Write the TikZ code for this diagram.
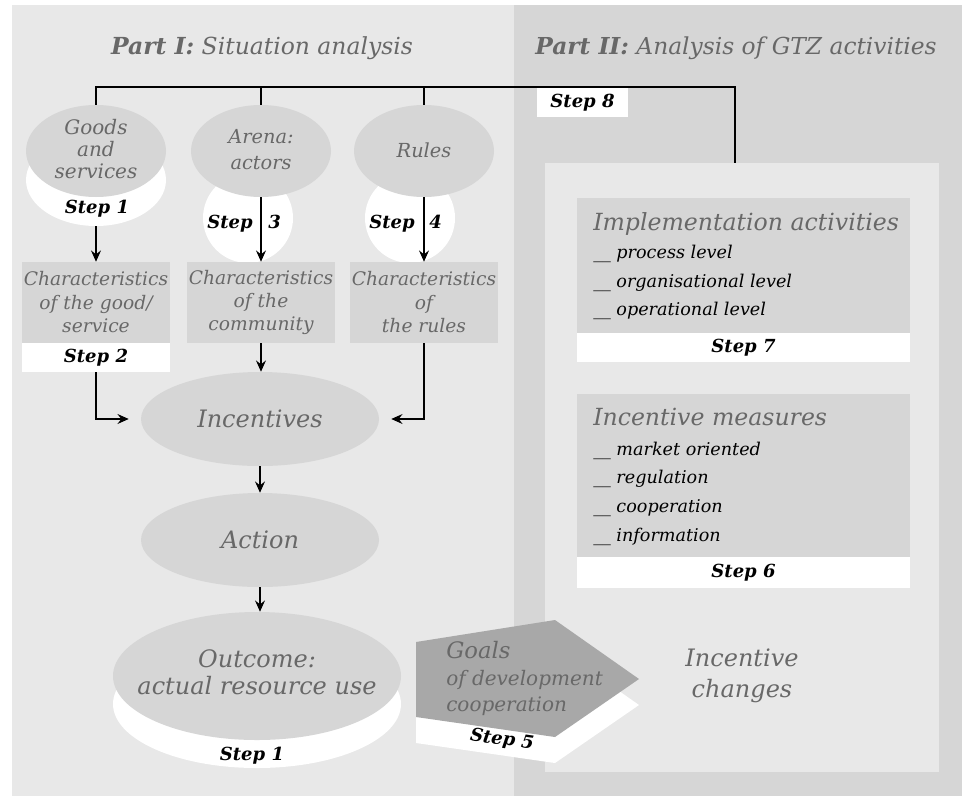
\documentclass[tikz,border=0pt]{standalone}
\usepackage{fontspec}
\setmainfont{DejaVu Serif}
\usetikzlibrary{shapes.geometric,arrows.meta}
\definecolor{panelA}{HTML}{E8E8E8}
\definecolor{panelB}{HTML}{D6D6D6}
\definecolor{blob}{HTML}{D6D6D6}
\definecolor{ink}{HTML}{686868}
\definecolor{goalfill}{HTML}{A8A8A8}
\newcommand\fsz[2]{\fontsize{#1}{#2}\selectfont}
\tikzset{
  blobell/.style={ellipse, fill=blob, inner sep=0pt},
  blobtxt/.style={align=center, text=ink, inner sep=0pt},
  shadowell/.style={ellipse, fill=white, inner sep=0pt},
  smallell/.style={minimum width=105pt, minimum height=69pt},
  bigell/.style={minimum width=178.5pt, minimum height=70.5pt},
  steplbl/.style={font=\fsz{13.5pt}{16pt}\bfseries\itshape, text=black, inner sep=0pt},
  greybox/.style={rectangle, fill=panelB, inner sep=0pt, align=center, text=ink},
  whitebox/.style={rectangle, fill=white, inner sep=0pt},
  charbox/.style={greybox, minimum width=111pt, minimum height=60.75pt,
    font=\fsz{14pt}{17.6pt}\itshape},
  stepbox/.style={whitebox, steplbl, minimum width=111pt, minimum height=21.75pt},
  widebox/.style={greybox, minimum width=249.75pt},
  widestep/.style={whitebox, steplbl, minimum width=249.75pt},
  titletxt/.style={font=\fsz{17.7pt}{20pt}\itshape, text=ink, inner sep=0pt, anchor=base west},
  itemtxt/.style={font=\fsz{13.2pt}{15pt}\itshape, text=black, inner sep=0pt, anchor=base west},
  arr/.style={-{Stealth[length=8.5pt,width=7.5pt,inset=3pt]}, line width=0.9pt},
  link/.style={line width=0.9pt}
}
\begin{document}
\begin{tikzpicture}[x=0.75pt,y=-0.75pt]
\useasboundingbox (0,0) rectangle (962,796);
% panels
\fill[white] (0,0) rectangle (962,796);
\fill[panelA] (12,5) rectangle (514,796);
\fill[panelB] (514,5) rectangle (962,796);
\fill[panelA] (545,163) rectangle (939,772);

% headings
\node[anchor=base, text=ink, font=\fsz{17.6pt}{20pt}, inner sep=0pt] (part1) at (262,54)
  {\textbf{\textit{Part I:}} \textit{Situation analysis}};
\node[anchor=base, text=ink, font=\fsz{17.5pt}{20pt}, inner sep=0pt] (part2) at (736,54)
  {\textbf{\textit{Part II:}} \textit{Analysis of GTZ activities}};

% step 8 tag
\node[whitebox, steplbl, minimum width=68.25pt, minimum height=21.75pt] (step8) at (582.5,102.5) {Step 8};

% top row: goods, arena, rules
\node[shadowell, smallell] (goodsSh) at (96,180) {};
\node[circle, fill=white, inner sep=0pt, minimum size=67.5pt] (s3c) at (248,218) {};
\node[circle, fill=white, inner sep=0pt, minimum size=67.5pt] (s4c) at (410,218) {};
\node[blobell, smallell] (goods) at (96,151) {};
\node[blobtxt, font=\fsz{15pt}{16.5pt}\itshape] (goodsT) at (96,149) {Goods\\and\\services};
\node[blobell, smallell] (arena) at (261,151) {};
\node[blobtxt, font=\fsz{14.5pt}{19.5pt}\itshape] (arenaT) at (261,150) {Arena:\\actors};
\node[blobell, smallell] (rules) at (424,151) {};
\node[blobtxt, font=\fsz{14.5pt}{19.5pt}\itshape] (rulesT) at (424,150) {Rules};

\node[steplbl, anchor=base] (st1a) at (97,213) {Step 1};
\node[steplbl, anchor=base east] (st3a) at (253,228) {Step};
\node[steplbl, anchor=base west] (st3b) at (268,228) {3};
\node[steplbl, anchor=base east] (st4a) at (415,228) {Step};
\node[steplbl, anchor=base west] (st4b) at (429,228) {4};

% characteristics boxes
\node[charbox] (char1) at (96,302.5) {Characteristics\\of the good/\\service};
\node[stepbox] (step2) at (96,357.5) {Step 2};
\node[charbox] (char2) at (261,302.5) {Characteristics\\of the\\community};
\node[charbox] (char3) at (424,302.5) {Characteristics\\of\\the rules};

% central chain
\node[blobell, bigell] (incent) at (260,419) {};
\node[blobtxt, font=\fsz{18pt}{21pt}\itshape] (incentT) at (260,419) {Incentives};
\node[blobell, bigell] (action) at (260,540) {};
\node[blobtxt, font=\fsz{18pt}{21pt}\itshape] (actionT) at (260,540) {Action};
\node[shadowell, minimum width=216pt, minimum height=96pt] (outSh) at (257,704) {};
\node[blobell, minimum width=216pt, minimum height=96pt] (outcome) at (257,676) {};
\node[blobtxt, font=\fsz{18pt}{20pt}\itshape] (outcomeT) at (257,672) {Outcome:\\actual resource use};
\node[steplbl, anchor=base] (st1b) at (252,760) {Step 1};

% goals of development cooperation
\fill[white] (416,668) -- (555,646) -- (639,705) -- (555,763) -- (416,743) -- cycle;
\fill[goalfill] (416,642) -- (555,620) -- (639,679) -- (555,737) -- (416,717) -- cycle;
\node[anchor=north west, align=left, text=ink, inner sep=0pt, font=\fsz{15pt}{20pt}\itshape] (goals) at (446,641)
  {{\fsz{17pt}{20pt}\itshape Goals}\\of development\\cooperation};
\node[steplbl, rotate=-8] (st5) at (502,740) {Step 5};

\node[align=center, text=ink, inner sep=0pt, font=\fsz{18pt}{23pt}\itshape] (ichg) at (742,676) {Incentive\\changes};

% right-hand boxes
\node[widebox, minimum height=101.25pt] (impl) at (743.5,265.5) {};
\node[widestep, minimum height=21.75pt] (step7) at (743.5,347.5) {Step 7};
\node[titletxt] (implT) at (593,230) {Implementation activities};
\node[itemtxt] (impl1) at (593,258) {\_\_ process level};
\node[itemtxt] (impl2) at (593,287) {\_\_ organisational level};
\node[itemtxt] (impl3) at (593,315) {\_\_ operational level};

\node[widebox, minimum height=122.25pt] (meas) at (743.5,475.5) {};
\node[widestep, minimum height=23.25pt] (step6) at (743.5,572.5) {Step 6};
\node[titletxt] (measT) at (593,425) {Incentive measures};
\node[itemtxt] (meas1) at (593,455) {\_\_ market oriented};
\node[itemtxt] (meas2) at (593,483) {\_\_ regulation};
\node[itemtxt] (meas3) at (593,512) {\_\_ cooperation};
\node[itemtxt] (meas4) at (593,541) {\_\_ information};

% bracket joining the analysis parts
\coordinate (barL) at (96,87);
\coordinate (barR) at (735,87);
\coordinate (panelTop) at (735,163);
\draw[link] (goods.north) -- (barL) -- (barR) -- (panelTop);
\draw[link] (arena.north) -- (arena.north |- barL);
\draw[link] (rules.north) -- (rules.north |- barL);

% arrows
\draw[arr] (goodsSh.south) -- (char1.north);
\draw[arr] (arena.south) -- (char2.north);
\draw[arr] (rules.south) -- (char3.north);
\draw[arr] (char2.south) -- (char2.south |- incent.north);
\draw[arr, shorten >=9pt] (step2.south) |- (incent.west);
\draw[arr, shorten >=9pt] (char3.south) |- (incent.east);
\draw[arr] (incent.south) -- (action.north);
\draw[arr] (action.south) -- (action.south |- outcome.north);
\end{tikzpicture}
\end{document}
